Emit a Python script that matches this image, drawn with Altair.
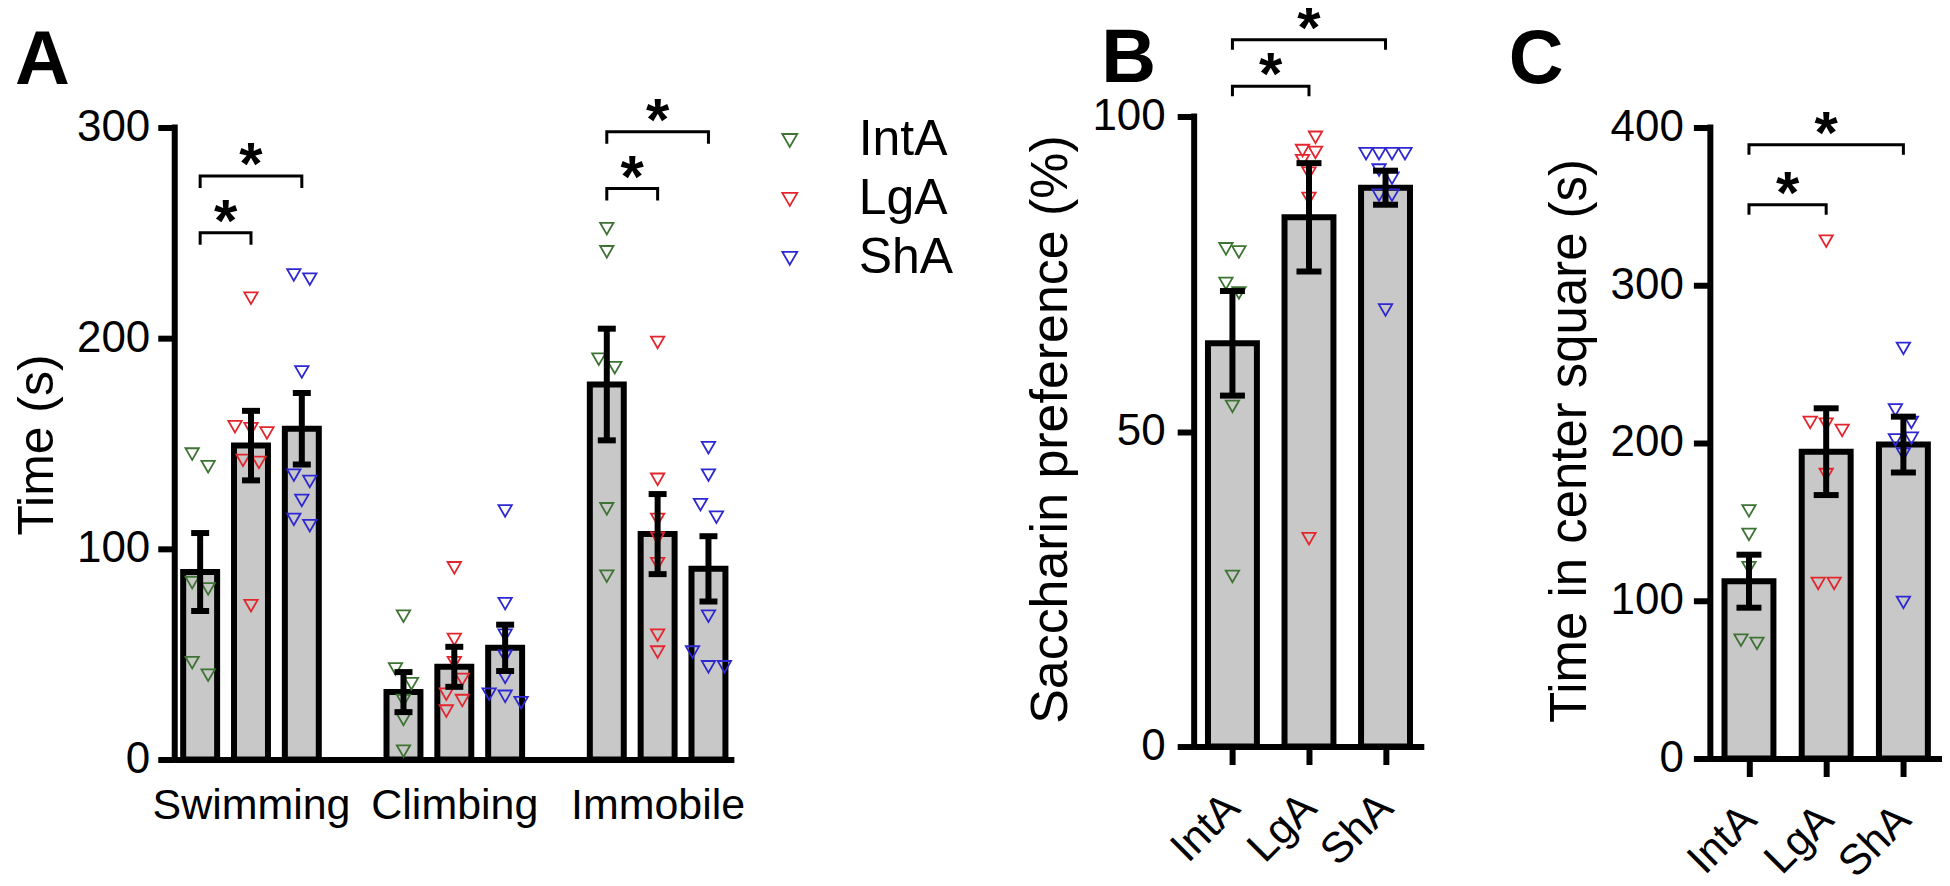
import json
import altair as alt
import pandas as pd

FONT = "Liberation Sans"
GROUPS = ["IntA", "LgA", "ShA"]
GROUP_COLORS = ["#3d7433", "#e3262d", "#2e28d2"]
BEHAVIORS = ["Swimming", "Climbing", "Immobile"]

# ---------------- Panel A : forced swim test, Time (s) ----------------
swim_inta = [145, 139, 84, 81, 46, 40]
swim_lga = [219, 158, 157, 155, 142, 141, 73]
swim_sha = [230, 228, 184, 135, 132, 123, 114, 111]
climb_inta = [68, 43, 36, 28, 19, 4]
climb_lga = [91, 57, 46, 38, 31, 28, 23]
climb_sha = [118, 74, 59, 49, 39, 31, 30, 27]
immob_inta = [252, 241, 190, 186, 119, 87]
immob_lga = [198, 133, 114, 105, 93, 59, 51]
immob_sha = [148, 135, 121, 115, 68, 51, 44, 44]
fst_mean = [89, 149, 157, 32, 44, 53, 178, 107, 90.5]
fst_sem = [18.5, 16.5, 17, 9.5, 9.5, 11, 26.5, 19, 15.5]
fst_ticks = [0, 100, 200, 300]
# brackets: (from slot, to slot, level)
fst_brackets = [(0, 1, 250), (0, 2, 277), (8, 9, 271), (8, 10, 298)]

# ---------------- Panel B : Saccharin preference (%) ----------------
sac_inta = [79, 78.5, 73.5, 72, 54, 27]
sac_lga = [96.7, 94.6, 94.3, 93, 91, 87, 33]
sac_sha = [94.1, 94.1, 94.1, 94.1, 91.5, 90.2, 87.5, 87.5, 69.3]
sac_mean = [64, 84, 88.7]
sac_sem = [8.3, 8.6, 2.7]
sac_ticks = [0, 50, 100]
sac_brackets = [(0, 1, 104.8), (0, 2, 112.2)]

# ---------------- Panel C : Time in center square (s) ----------------
ctr_inta = [157, 142, 121, 75, 73]
ctr_lga = [328, 213, 212, 208, 180, 111, 111]
ctr_sha = [260, 221, 213, 203, 202, 193, 99]
ctr_mean = [112.4, 194.5, 199]
ctr_sem = [16.8, 27.5, 17.7]
ctr_ticks = [0, 100, 200, 300, 400]
ctr_brackets = [(0, 1, 351), (0, 2, 389)]


def spread(values, ppu_y, ppu_x, step_px, thr_px=15.0):
    """GraphPad-like scatter: neighbours closer than a marker height are put side by side."""
    order = sorted(range(len(values)), key=lambda i: -values[i])
    offs = [0.0] * len(values)
    clusters = []
    for i in order:
        if clusters and (values[clusters[-1][-1]] - values[i]) * ppu_y < thr_px:
            clusters[-1].append(i)
        else:
            clusters.append([i])
    for c in clusters:
        n = len(c)
        if n == 1:
            continue
        span = (values[c[0]] - values[c[-1]]) * ppu_y
        for k, i in enumerate(c):
            if span < thr_px:
                offs[i] = (k - (n - 1) / 2) * step_px
            elif n % 2 == 1 and k == n - 1:
                offs[i] = 0.0
            else:
                offs[i] = (step_px / 2) * (1 if k % 2 == 0 else -1)
    return [o / ppu_x for o in offs]


AXIS_STYLE = dict(
    labelFont=FONT, titleFont=FONT, labelColor="black", titleColor="black",
    domainColor="black", tickColor="black", grid=False, titleFontWeight="normal",
    labelLimit=0, labelOverlap=False,
)


def panel(point_sets, means, sems, slots, brackets, ticks, ytitle, *, width, height,
          ymax, ytop, ppu_y, step_px, half_bar, cap_px, arm_px, x_axis, legend,
          letter, letter_x, letter_y, title_y, title_size, label_pad):
    ppu_x = width / (max(slots) - min(slots) + 1)
    xscale = alt.Scale(domain=[min(slots) - 0.5, max(slots) + 0.5], nice=False, zero=False)
    yscale = alt.Scale(domain=[0, ymax], nice=False, zero=True)

    y_axis = alt.Axis(
        values=ticks, title=ytitle, domain=False,
        tickSize=17, tickWidth=6, labelFontSize=44, labelPadding=label_pad,
        titleFontSize=title_size, titlePadding=14, titleY=title_y, **AXIS_STYLE,
    )

    def X(f):
        return alt.X(f"{f}:Q", scale=xscale, axis=x_axis)

    def Y(f):
        return alt.Y(f"{f}:Q", scale=yscale, axis=y_axis)

    pts = []
    for slot, gi, vals in point_sets:
        offs = spread(vals, ppu_y, ppu_x, step_px)
        for v, o in zip(vals, offs):
            pts.append({"px": slot + o, "val": v, "group": GROUPS[gi]})
    pts = pd.DataFrame(pts)

    bar_df = pd.DataFrame({"pos": slots, "mean": means, "sem": sems})
    bar_df["x0"] = bar_df["pos"] - half_bar
    bar_df["x1"] = bar_df["pos"] + half_bar
    bar_df["base"] = 0.0
    bar_df["lo"] = bar_df["mean"] - bar_df["sem"]
    bar_df["hi"] = bar_df["mean"] + bar_df["sem"]
    cap_df = pd.concat([
        bar_df[["pos", "lo"]].rename(columns={"lo": "cap"}),
        bar_df[["pos", "hi"]].rename(columns={"hi": "cap"}),
    ])

    arm = arm_px / ppu_y
    brk_rows, star_rows = [], []
    for b, (xa, xc, lvl) in enumerate(brackets):
        for k, (xx, yy) in enumerate([(xa, lvl - arm), (xa, lvl), (xc, lvl), (xc, lvl - arm)]):
            brk_rows.append({"bid": b, "k": k, "bx": xx, "by": yy})
        star_rows.append({"sx": (xa + xc) / 2, "sy": lvl})
    brk_df = pd.DataFrame(brk_rows)
    star_df = pd.DataFrame(star_rows)

    yl = pd.DataFrame({"lx": [min(slots) - 0.5], "ly0": [0.0], "ly1": [float(ytop)]})

    bars = alt.Chart(bar_df).mark_bar(
        fill="#c8c8c8", stroke="black", strokeWidth=6, strokeJoin="miter"
    ).encode(x=X("x0"), x2="x1:Q", y=Y("mean"), y2="base:Q")
    points = alt.Chart(pts).mark_point(
        shape="triangle-down", filled=False, size=180, strokeWidth=1.8, opacity=1
    ).encode(
        x=X("px"), y=Y("val"),
        color=alt.Color("group:N", scale=alt.Scale(domain=GROUPS, range=GROUP_COLORS), legend=legend),
    )
    stems = alt.Chart(bar_df).mark_rule(color="black", strokeWidth=6).encode(
        x=X("pos"), y=Y("lo"), y2="hi:Q"
    )
    caps = alt.Chart(cap_df).mark_tick(
        orient="horizontal", color="black", size=cap_px, thickness=6, opacity=1
    ).encode(x=X("pos"), y=Y("cap"))
    brk = alt.Chart(brk_df).mark_line(color="black", strokeWidth=3).encode(
        x=X("bx"), y=Y("by"), detail="bid:N", order="k:Q"
    )
    stars = alt.Chart(star_df).mark_text(
        text="*", font=FONT, fontSize=60, fontWeight="bold", baseline="alphabetic",
        dy=8, color="black",
    ).encode(x=X("sx"), y=Y("sy"))
    label = alt.Chart(pd.DataFrame({"letter": [letter]})).mark_text(
        font=FONT, fontSize=76, fontWeight="bold", align="left", baseline="alphabetic",
        color="black",
    ).encode(text="letter:N", x=alt.value(letter_x), y=alt.value(letter_y))
    yline = alt.Chart(yl).mark_rule(color="black", strokeWidth=6, strokeCap="square").encode(
        x=X("lx"), y=Y("ly0"), y2="ly1:Q"
    )
    return alt.layer(bars, points, stems, caps, brk, stars, label, yline).properties(
        width=width, height=height
    )


# ---- Panel A assembly ----
slotsA = [b * 4 + g for b in range(3) for g in range(3)]
setsA = [
    (slotsA[0], 0, swim_inta), (slotsA[1], 1, swim_lga), (slotsA[2], 2, swim_sha),
    (slotsA[3], 0, climb_inta), (slotsA[4], 1, climb_lga), (slotsA[5], 2, climb_sha),
    (slotsA[6], 0, immob_inta), (slotsA[7], 1, immob_lga), (slotsA[8], 2, immob_sha),
]
xA = alt.Axis(
    values=[1, 5, 9], labelExpr=f"{json.dumps(BEHAVIORS)}[(datum.value - 1) / 4]",
    title=None, ticks=False, tickSize=0, domainWidth=6, labelFontSize=43,
    labelPadding=25, labelAngle=0, **AXIS_STYLE,
)
legendA = alt.Legend(
    orient="none", legendX=591, legendY=-1, title=None, labelFont=FONT, labelFontSize=50,
    labelColor="black", symbolType="triangle-down", symbolSize=225, symbolStrokeWidth=1.8,
    symbolFillColor="transparent", labelOffset=44, rowPadding=9, padding=0, labelLimit=0,
)
ppuA = 633 / 300
pA = panel(
    setsA, fst_mean, fst_sem, slotsA, fst_brackets, fst_ticks, "Time (s)",
    width=560, height=644, ymax=644 / ppuA, ytop=300, ppu_y=ppuA, step_px=16,
    half_bar=17 / (560 / 11), cap_px=18, arm_px=12, x_axis=xA, legend=legendA,
    letter="A", letter_x=-160, letter_y=-33, title_y=328.5, title_size=50, label_pad=8,
)

# ---- Panel B assembly ----
slotsB = [0, 1, 2]
xBC = alt.Axis(
    values=[0, 1, 2], labelExpr=f"{json.dumps(GROUPS)}[datum.value]", title=None,
    ticks=True, tickSize=18, tickWidth=6, domainWidth=6, labelFontSize=43,
    labelAngle=315, labelAlign="right", labelBaseline="middle", labelPadding=36,
    **AXIS_STYLE,
)
ppuB = 631 / 100
pB = panel(
    [(0, 0, sac_inta), (1, 1, sac_lga), (2, 2, sac_sha)], sac_mean, sac_sem, slotsB,
    sac_brackets, sac_ticks, "Saccharin preference (%)",
    width=230, height=631, ymax=100, ytop=100, ppu_y=ppuB, step_px=13,
    half_bar=24.5 / (230 / 3), cap_px=25, arm_px=10, x_axis=xBC, legend=None,
    letter="B", letter_x=-93, letter_y=-35, title_y=313, title_size=52, label_pad=12,
)

# ---- Panel C assembly ----
ppuC = 632 / 400
pC = panel(
    [(0, 0, ctr_inta), (1, 1, ctr_lga), (2, 2, ctr_sha)], ctr_mean, ctr_sem, slotsB,
    ctr_brackets, ctr_ticks, "Time in center square (s)",
    width=232, height=643, ymax=643 / ppuC, ytop=400, ppu_y=ppuC, step_px=16,
    half_bar=24.5 / (232 / 3), cap_px=25, arm_px=10, x_axis=xBC, legend=None,
    letter="C", letter_x=-202, letter_y=-34, title_y=324.5, title_size=51, label_pad=10,
)

chart = alt.hconcat(
    pA,
    alt.hconcat(pB, pC, spacing=287, bounds="flush"),
    spacing=461, bounds="flush",
).resolve_scale(color="independent").properties(
    padding={"left": 4, "top": -9, "right": 0, "bottom": 0}, background="white",
).configure_view(stroke=None)

chart.save("out.html", embed_options={"renderer": "svg", "actions": False})
